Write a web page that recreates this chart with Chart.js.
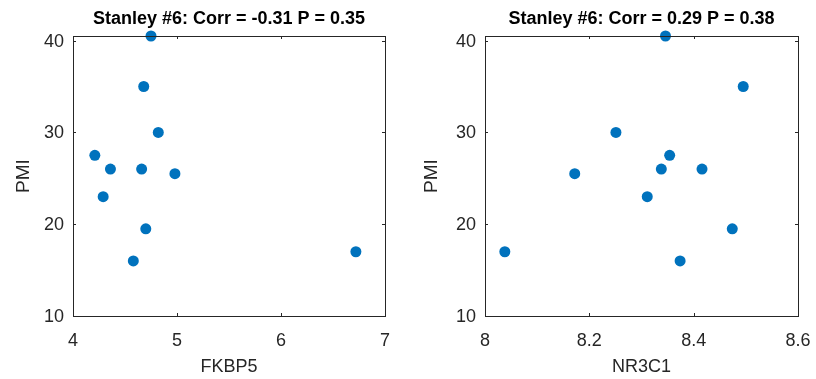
<!DOCTYPE html>
<html>
<head>
<meta charset="utf-8">
<script src="https://cdn.jsdelivr.net/npm/chart.js@4"></script>
<style>
  body { margin: 0; background: #fff; }
  #wrap { position: relative; width: 816px; height: 379px; }
  canvas { position: absolute; top: 0; }
</style>
</head>
<body>
<div id="wrap">
  <canvas id="left" width="408" height="379" style="left:0"></canvas>
  <canvas id="right" width="408" height="379" style="left:408px"></canvas>
</div>
<script>
// PMI for each sample (same order in both panels)
var pmi = [40.5, 35, 30, 27.5, 26, 26, 25.5, 23, 19.5, 16, 17];
var fkbp5 = [4.75, 4.68, 4.82, 4.21, 4.36, 4.66, 4.98, 4.29, 4.70, 4.58, 6.72];
var nr3c1 = [8.346, 8.495, 8.251, 8.354, 8.338, 8.416, 8.172, 8.311, 8.474, 8.374, 8.038];

var yTicks = [10, 20, 30, 40];
var fkbp5Ticks = [4, 5, 6, 7];
var nr3c1Ticks = [8, 8.2, 8.4, 8.6];

var axisColor = '#262626';
var markerColor = '#0072BD';
var fontFamily = 'Liberation Sans, Arial, sans-serif';

function points(xs, ys) {
  var out = [];
  for (let i = 0; i < xs.length; i++) {
    out.push({ x: xs[i], y: ys[i] });
  }
  return out;
}

// box round the plot plus small inward tick marks, like matlab
var boxPlugin = {
  id: 'box',
  afterDraw: function(chart) {
    var ctx = chart.ctx;
    var a = chart.chartArea;
    var xs = chart.scales.x, ys = chart.scales.y;
    ctx.save();
    ctx.strokeStyle = axisColor;
    ctx.lineWidth = 1;
    ctx.strokeRect(Math.round(a.left) + 0.5, Math.round(a.top) + 0.5,
      Math.round(a.right - a.left), Math.round(a.bottom - a.top));
    ctx.beginPath();
    xs.ticks.forEach(function(t) {
      var px = Math.round(xs.getPixelForValue(t.value)) + 0.5;
      ctx.moveTo(px, a.bottom); ctx.lineTo(px, a.bottom - 3);
      ctx.moveTo(px, a.top); ctx.lineTo(px, a.top + 3);
    });
    ys.ticks.forEach(function(t) {
      var py = Math.round(ys.getPixelForValue(t.value)) + 0.5;
      ctx.moveTo(a.left, py); ctx.lineTo(a.left + 3, py);
      ctx.moveTo(a.right, py); ctx.lineTo(a.right - 3, py);
    });
    ctx.stroke();
    ctx.restore();
  }
};

function makeChart(id, xs, xTicks, xMin, xMax, xLabel, titleText, yWidth, padRight) {
  return new Chart(document.getElementById(id), {
    type: 'scatter',
    data: {
      datasets: [{
        data: points(xs, pmi),
        backgroundColor: markerColor,
        borderColor: markerColor,
        borderWidth: 0,
        pointRadius: 5.5,
        pointHoverRadius: 5.5,
        clip: false
      }]
    },
    options: {
      responsive: false,
      animation: false,
      layout: { padding: { top: 0, right: padRight, left: 0, bottom: 0 } },
      plugins: {
        legend: { display: false },
        tooltip: { enabled: false },
        title: {
          display: true,
          text: titleText,
          fullSize: false,
          color: '#000',
          font: { family: fontFamily, size: 18, weight: 'bold', lineHeight: 1.2 },
          padding: { top: 8.5, bottom: 5.9 }
        }
      },
      scales: {
        x: {
          type: 'linear',
          min: xMin,
          max: xMax,
          afterBuildTicks: function(axis) {
            axis.ticks = xTicks.map(v => ({ value: v }));
          },
          afterFit: function(axis) {
            axis.height = 63;
            axis.paddingLeft = 0;
            axis.paddingRight = 0;
          },
          grid: { display: false, drawTicks: false },
          border: { display: false },
          ticks: {
            color: axisColor,
            padding: 14,
            maxRotation: 0,
            callback: function(v) { return String(v); },
            font: { family: fontFamily, size: 18 }
          },
          title: {
            display: true,
            text: xLabel,
            color: axisColor,
            font: { family: fontFamily, size: 18 },
            padding: { top: 0, bottom: 1 }
          }
        },
        y: {
          type: 'linear',
          min: 10,
          max: 40.5,
          afterBuildTicks: function(axis) {
            axis.ticks = yTicks.map(v => ({ value: v }));
          },
          afterFit: function(axis) {
            axis.width = yWidth;
            axis.paddingTop = 0;
            axis.paddingBottom = 0;
          },
          grid: { display: false, drawTicks: false },
          border: { display: false },
          ticks: {
            color: axisColor,
            padding: 9,
            labelOffset: 1,
            font: { family: fontFamily, size: 18 }
          },
          title: {
            display: true,
            text: 'PMI',
            color: axisColor,
            font: { family: fontFamily, size: 19 },
            padding: { top: 12, bottom: 0 }
          }
        }
      }
    },
    plugins: [boxPlugin]
  });
}

makeChart('left', fkbp5, fkbp5Ticks, 4, 7, 'FKBP5', 'Stanley #6: Corr = -0.31 P = 0.35', 73, 23);
makeChart('right', nr3c1, nr3c1Ticks, 8, 8.6, 'NR3C1', 'Stanley #6: Corr = 0.29 P = 0.38', 77, 18);
</script>
</body>
</html>
